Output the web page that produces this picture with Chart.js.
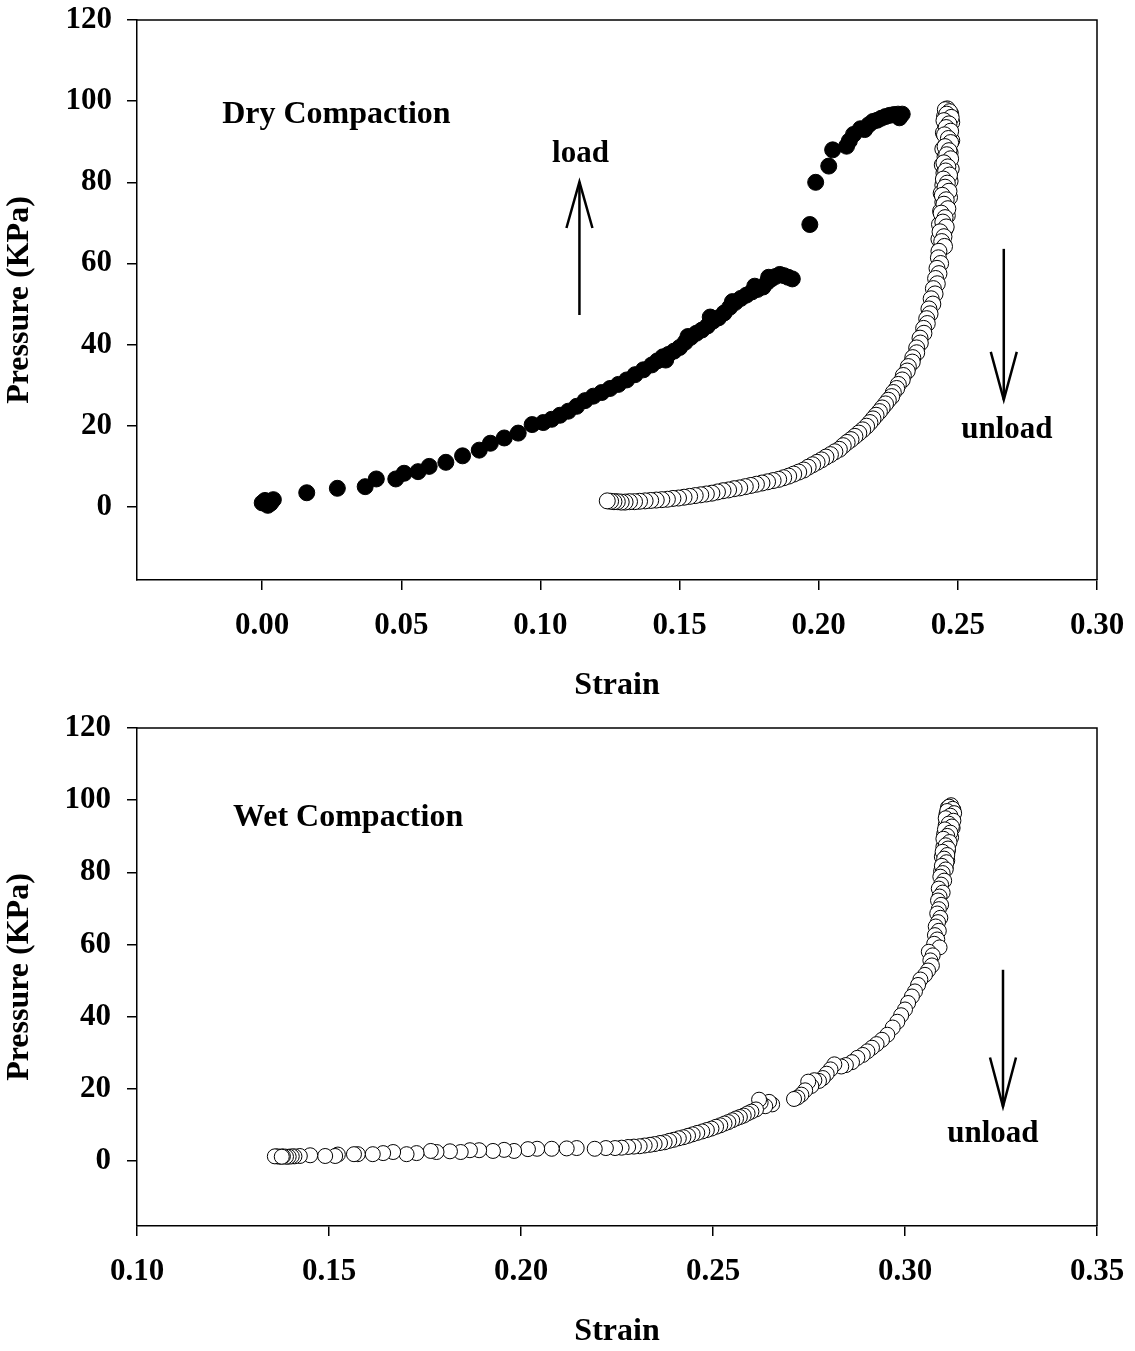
<!DOCTYPE html>
<html><head><meta charset="utf-8">
<script src="https://cdn.jsdelivr.net/npm/chart.js@4.4.1/dist/chart.umd.min.js"></script>
<style>
html,body{margin:0;padding:0;background:#fff;}
#c1{position:absolute;left:0;top:0;}
#c2{position:absolute;left:0;top:710px;}
</style></head><body>
<canvas id="c1" width="1135" height="710"></canvas>
<canvas id="c2" width="1135" height="641"></canvas>
<script>
// ---------- DATA ----------
const yTicks = [0, 20, 40, 60, 80, 100, 120];
const dryXTicks = [0.00, 0.05, 0.10, 0.15, 0.20, 0.25, 0.30];
const wetXTicks = [0.10, 0.15, 0.20, 0.25, 0.30, 0.35];

// Dry compaction - load (filled)
const dryLoad = [
 [0.0000,1.0],[0.0010,1.6],[0.0020,0.4],[0.0030,0.9],[0.0040,1.8],[0.0160,3.5],[0.0270,4.6],
 [0.0370,5.0],[0.0410,6.9],[0.0480,6.9],[0.0510,8.3],[0.0560,8.7],[0.0600,10.0],[0.0660,11.0],
 [0.0720,12.6],[0.0780,14.0],[0.0820,15.7],[0.0870,17.0],[0.0920,18.2],[0.0970,20.3],[0.1010,20.8],
 [0.1040,21.6],[0.1070,22.6],[0.1100,23.6],[0.1130,24.8],[0.1160,26.2],[0.1190,27.3],[0.1220,28.2],
 [0.1250,29.2],[0.1280,30.2],[0.1310,31.3],[0.1340,32.6],[0.1370,33.8],[0.1400,35.0],[0.1420,36.0],
 [0.1440,37.0],[0.1450,36.2],[0.1460,37.6],[0.1480,38.4],[0.1500,39.3],[0.1520,40.6],[0.1530,42.0],
 [0.1540,41.8],[0.1560,42.8],[0.1580,43.6],[0.1600,44.6],[0.1610,46.8],[0.1620,45.8],[0.1640,46.6],
 [0.1660,47.8],[0.1680,49.2],[0.1690,50.6],[0.1700,50.4],[0.1720,51.4],[0.1740,52.2],[0.1760,53.0],
 [0.1770,54.4],[0.1780,53.6],[0.1800,54.2],[0.1815,55.4],[0.1820,56.6],[0.1830,56.2],[0.1845,56.8],
 [0.1860,57.3],[0.1875,57.0],[0.1890,56.6],[0.1905,56.2],
 [0.1968,69.6],[0.1989,80.0],[0.2036,84.0],[0.2050,88.0],[0.2100,88.9],[0.2110,90.2],[0.2125,91.8],
 [0.2150,93.2],[0.2165,93.0],[0.2180,94.2],[0.2195,95.0],[0.2210,95.3],[0.2225,95.8],[0.2240,96.2],
 [0.2255,96.5],[0.2270,96.7],[0.2285,96.8],[0.2300,96.8],[0.2290,95.9]
];

// Dry compaction - unload (open)
const dryUnload = [
 [0.2462,98.1],[0.2474,96.9],[0.2452,96.2],[0.2466,95.6],[0.2478,94.8],[0.2456,94.0],[0.2470,93.0],
 [0.2448,92.2],[0.2462,91.2],[0.2478,90.3],[0.2458,89.3],[0.2446,88.2],[0.2472,87.3],[0.2454,86.3],
 [0.2466,85.3],[0.2444,84.3],[0.2476,83.3],[0.2450,82.3],[0.2462,81.3],[0.2472,80.3],[0.2446,79.3],
 [0.2458,78.3],[0.2440,77.3],[0.2470,76.3],[0.2446,75.1],[0.2458,74.0],[0.2438,72.9],[0.2462,71.8],
 [0.2444,70.7],[0.2434,69.6],[0.2454,68.4],[0.2444,67.2],[0.2432,66.0],[0.2448,64.8],[0.2438,63.6],
 [0.2455,97.9],[0.2470,97.4],[0.2460,96.8],[0.2476,96.0],[0.2450,95.2],[0.2468,94.4],[0.2458,93.5],
 [0.2474,92.6],[0.2452,91.7],[0.2466,90.8],[0.2474,89.8],[0.2454,88.8],[0.2468,87.8],[0.2460,86.8],
 [0.2474,85.8],[0.2450,84.8],[0.2464,83.8],[0.2456,82.8],[0.2470,81.8],[0.2448,80.8],[0.2462,79.8],
 [0.2454,78.8],[0.2468,77.8],[0.2444,76.8],[0.2458,75.7],[0.2450,74.6],[0.2464,73.5],[0.2440,72.4],
 [0.2454,71.3],[0.2446,70.2],[0.2458,69.0],[0.2436,67.8],[0.2450,66.6],[0.2442,65.4],[0.2452,64.2],
 [0.2432,63.0],[0.2430,61.4],[0.2438,60.0],[0.2425,58.8],[0.2432,57.5],[0.2420,56.3],[0.2426,55.0],
 [0.2412,53.8],[0.2418,52.5],[0.2404,51.3],[0.2410,50.0],[0.2396,48.8],[0.2400,47.6],[0.2388,46.4],
 [0.2390,45.2],[0.2377,44.0],[0.2378,42.8],[0.2364,41.6],[0.2365,40.4],[0.2352,39.2],[0.2352,38.0],
 [0.2338,36.8],[0.2336,35.7],[0.2322,34.6],[0.2318,33.5],[0.2304,32.4],[0.2300,31.3],[0.2286,30.2],
 [0.2280,29.2],[0.2268,28.2],[0.2262,27.2],[0.2250,26.3],[0.2240,25.4],[0.2228,24.4],[0.2218,23.5],
 [0.2206,22.6],[0.2195,21.7],[0.2184,20.8],[0.2172,19.9],[0.2158,19.0],[0.2144,18.2],[0.2130,17.4],
 [0.2116,16.6],[0.2102,15.9],[0.2088,15.1],[0.2074,14.2],[0.2058,13.6],[0.2042,12.9],[0.2026,12.3],
 [0.2010,11.6],[0.1994,11.0],[0.1978,10.4],[0.1962,9.8],[0.1946,9.1],[0.1928,8.6],[0.1910,8.1],
 [0.1892,7.6],[0.1874,7.2],[0.1856,6.8],[0.1836,6.5],[0.1816,6.2],[0.1796,5.9],[0.1776,5.6],
 [0.1756,5.3],[0.1736,5.0],[0.1716,4.7],[0.1696,4.5],[0.1676,4.2],[0.1656,4.0],[0.1636,3.7],
 [0.1616,3.4],[0.1596,3.2],[0.1576,3.0],[0.1556,2.8],[0.1536,2.6],[0.1516,2.4],[0.1496,2.2],
 [0.1476,2.1],[0.1456,1.9],[0.1436,1.8],[0.1416,1.7],[0.1396,1.6],[0.1376,1.5],[0.1356,1.4],
 [0.1338,1.3],[0.1320,1.3],[0.1304,1.2],[0.1290,1.2],[0.1276,1.3],[0.1264,1.3],[0.1252,1.4],
 [0.1240,1.5]
];

// Wet compaction - unload (open)
const wetUnload = [
 [0.3120,98.6],[0.3112,98.0],[0.3126,97.3],[0.3116,96.7],[0.3108,96.1],[0.3124,95.4],[0.3112,94.7],
 [0.3120,93.9],[0.3106,93.1],[0.3124,92.3],[0.3112,91.4],[0.3102,90.6],[0.3120,89.7],[0.3108,88.9],
 [0.3114,88.0],[0.3100,87.1],[0.3112,86.1],[0.3104,85.2],[0.3096,84.3],[0.3110,83.3],[0.3100,82.3],
 [0.3106,81.3],[0.3094,80.3],
 [0.3115,98.2],[0.3124,97.6],[0.3110,97.0],[0.3128,96.4],[0.3118,95.7],[0.3106,95.0],[0.3126,94.3],
 [0.3114,93.5],[0.3122,92.7],[0.3104,91.9],[0.3118,91.0],[0.3110,90.1],[0.3100,89.3],[0.3116,88.4],
 [0.3106,87.5],[0.3112,86.6],[0.3098,85.7],[0.3110,84.8],[0.3102,83.8],[0.3108,82.8],[0.3096,81.8],
 [0.3106,80.8],[0.3098,79.8],[0.3092,78.8],[0.3102,77.7],[0.3094,76.6],[0.3088,75.5],[0.3098,74.4],
 [0.3090,73.3],[0.3086,72.2],[0.3094,71.0],[0.3088,69.8],[0.3084,68.6],[0.3092,67.4],[0.3086,66.2],
 [0.3080,65.0],[0.3088,63.8],[0.3078,62.6],[0.3084,61.4],[0.3076,60.2],[0.3090,59.2],[0.3062,58.0],
 [0.3072,57.0],[0.3066,55.6],[0.3070,54.2],[0.3060,52.8],[0.3052,51.6],[0.3040,50.3],[0.3034,48.8],
 [0.3026,47.0],[0.3018,45.6],[0.3008,43.8],[0.3000,42.0],[0.2990,40.4],[0.2980,38.6],[0.2968,37.0],
 [0.2954,35.0],[0.2940,33.6],[0.2926,32.4],[0.2914,31.4],[0.2902,30.4],[0.2890,29.4],[0.2876,28.6],
 [0.2862,27.4],[0.2846,26.6],[0.2834,26.2],[0.2816,26.8],[0.2806,25.4],[0.2796,24.2],[0.2786,23.0],
 [0.2776,22.2],[0.2764,22.4],[0.2756,20.8],[0.2748,22.0],[0.2740,19.6],[0.2730,18.4],[0.2720,17.6],
 [0.2711,17.2],
 [0.2654,15.7],[0.2646,16.4],[0.2636,15.2],[0.2624,16.2],[0.2620,17.0],[0.2612,14.3],[0.2600,13.7],
 [0.2590,13.2],[0.2580,12.6],[0.2570,12.2],[0.2560,11.8],[0.2550,11.3],[0.2540,10.8],[0.2530,10.4],
 [0.2519,9.9],[0.2508,9.5],[0.2496,9.0],[0.2484,8.6],[0.2472,8.2],[0.2459,7.8],[0.2447,7.4],
 [0.2435,7.0],[0.2423,6.6],[0.2411,6.3],[0.2398,5.9],[0.2386,5.6],[0.2374,5.2],[0.2362,5.0],
 [0.2348,4.7],[0.2336,4.5],[0.2322,4.3],[0.2309,4.1],[0.2294,4.0],[0.2279,3.9],[0.2262,3.7],
 [0.2245,3.6],[0.2221,3.6],[0.2192,3.4],[0.2145,3.6],[0.2119,3.5],[0.2080,3.4],[0.2042,3.4],
 [0.2018,3.3],[0.1982,2.8],[0.1956,3.1],[0.1927,2.8],[0.1891,3.0],[0.1867,3.0],[0.1843,2.5],
 [0.1815,2.7],[0.1780,2.5],[0.1765,2.8],[0.1728,2.2],[0.1702,1.9],[0.1667,2.5],[0.1641,2.2],
 [0.1614,1.9],[0.1575,1.9],[0.1565,1.9],[0.1523,1.8],[0.1516,1.4],[0.1490,1.4],[0.1451,1.6],
 [0.1424,1.4],[0.1410,1.3],[0.1403,1.3],[0.1395,1.2],[0.1388,1.2],[0.1380,1.3],[0.1372,1.2],
 [0.1365,1.3],[0.1359,1.3],[0.1377,1.2]
];

// ---------- RENDER ----------
const FONT = "'Liberation Serif','Times New Roman',serif";
const toPts = arr => arr.map(p => ({x: p[0], y: p[1]}));

const annot = {
  id: 'annot',
  afterDatasetsDraw(chart, args, opts) {
    const ctx = chart.ctx, xs = chart.scales.x, ys = chart.scales.y;
    ctx.save();
    ctx.fillStyle = '#000'; ctx.strokeStyle = '#000';
    (opts.texts || []).forEach(t => {
      ctx.font = 'bold ' + t.size + 'px ' + FONT;
      ctx.textAlign = t.align; ctx.textBaseline = 'alphabetic';
      ctx.fillText(t.text, xs.getPixelForValue(t.x), ys.getPixelForValue(t.y));
    });
    (opts.arrows || []).forEach(a => {
      const x = xs.getPixelForValue(a.x), y0 = ys.getPixelForValue(a.from),
            y1 = ys.getPixelForValue(a.to), yh = ys.getPixelForValue(a.head);
      ctx.lineWidth = 2.5; ctx.lineJoin = 'miter'; ctx.miterLimit = 20;
      ctx.beginPath(); ctx.moveTo(x, y0); ctx.lineTo(x, y1); ctx.stroke();
      ctx.beginPath(); ctx.moveTo(x - 13, yh); ctx.lineTo(x, y1); ctx.lineTo(x + 13, yh); ctx.stroke();
    });
    const ca = chart.chartArea;
    ctx.lineWidth = 1.5;
    ctx.beginPath(); ctx.moveTo(ca.left, ca.top); ctx.lineTo(ca.right, ca.top); ctx.lineTo(ca.right, ca.bottom); ctx.stroke();
    ctx.restore();
  }
};

function scalesFor(xmin, xmax, xticks, xHeight, titlePadBottom, yLabelPad) {
  const tickFont = {family: FONT, size: 31, weight: 'bold'};
  const titleFont = {family: FONT, size: 32, weight: 'bold'};
  return {
    x: {
      type: 'linear', min: xmin, max: xmax,
      afterBuildTicks: s => { s.ticks = xticks.map(v => ({value: v})); },
      afterFit: s => { s.height = xHeight; s.paddingLeft = 0; s.paddingRight = 0; s.paddingTop = 0; s.paddingBottom = 0; },
      ticks: {callback: v => Number(v).toFixed(2), font: tickFont, color: '#000', padding: 17, maxRotation: 0, autoSkip: false},
      grid: {drawOnChartArea: false, drawTicks: true, tickLength: 10, color: '#000', lineWidth: 1.5},
      border: {display: true, color: '#000', width: 1.5},
      title: {display: true, text: 'Strain', font: titleFont, color: '#000', padding: {top: 0, bottom: titlePadBottom}}
    },
    y: {
      type: 'linear', min: -18, max: 120,
      afterBuildTicks: s => { s.ticks = yTicks.map(v => ({value: v})); },
      afterFit: s => { s.width = 137; s.paddingLeft = 0; s.paddingRight = 0; s.paddingTop = 0; s.paddingBottom = 0; },
      ticks: {callback: v => String(v), font: tickFont, color: '#000', padding: yLabelPad},
      grid: {drawOnChartArea: false, drawTicks: true, tickLength: 10, color: '#000', lineWidth: 1.5},
      border: {display: true, color: '#000', width: 1.5},
      title: {display: true, text: 'Pressure (KPa)', font: titleFont, color: '#000', padding: {top: 1, bottom: 0}}
    }
  };
}

const common = {
  responsive: false, animation: false, events: [],
  plugins: {legend: {display: false}, tooltip: {enabled: false}}
};

new Chart(document.getElementById('c1'), {
  type: 'scatter',
  data: {datasets: [
    {data: toPts(dryLoad), pointRadius: 8, pointBorderWidth: 1, pointBackgroundColor: '#000', pointBorderColor: '#000'},
    {data: toPts(dryUnload), pointRadius: 8, pointBorderWidth: 1, pointBackgroundColor: '#fff', pointBorderColor: '#000'}
  ]},
  options: Object.assign({}, common, {
    layout: {padding: {top: 20, right: 38, bottom: 0, left: 0}},
    scales: scalesFor(-0.045, 0.30, dryXTicks, 130, 5, 15),
    plugins: Object.assign({}, common.plugins, {annot: {
      texts: [
        {text: 'Dry Compaction', x: -0.0144, y: 94.6, size: 32, align: 'left'},
        {text: 'load', x: 0.1144, y: 85.0, size: 31, align: 'center'},
        {text: 'unload', x: 0.2676, y: 17.0, size: 31, align: 'center'}
      ],
      arrows: [
        {x: 0.1140, from: 47.3, to: 80.1, head: 68.75},
        {x: 0.2665, from: 63.6, to: 26.4, head: 38.2}
      ]
    }})
  }),
  plugins: [annot]
});

new Chart(document.getElementById('c2'), {
  type: 'scatter',
  data: {datasets: [
    {data: toPts(wetUnload), pointRadius: 7.5, pointBorderWidth: 1, pointBackgroundColor: '#fff', pointBorderColor: '#000'}
  ]},
  options: Object.assign({}, common, {
    layout: {padding: {top: 18, right: 38, bottom: 0, left: 0}},
    scales: scalesFor(0.10, 0.35, wetXTicks, 125, 0, 16),
    plugins: Object.assign({}, common.plugins, {annot: {
      texts: [
        {text: 'Wet Compaction', x: 0.125, y: 92.9, size: 32, align: 'left'},
        {text: 'unload', x: 0.3229, y: 5.4, size: 31, align: 'center'}
      ],
      arrows: [
        {x: 0.32552, from: 53.0, to: 15.1, head: 28.7}
      ]
    }})
  }),
  plugins: [annot]
});
</script>
</body></html>
